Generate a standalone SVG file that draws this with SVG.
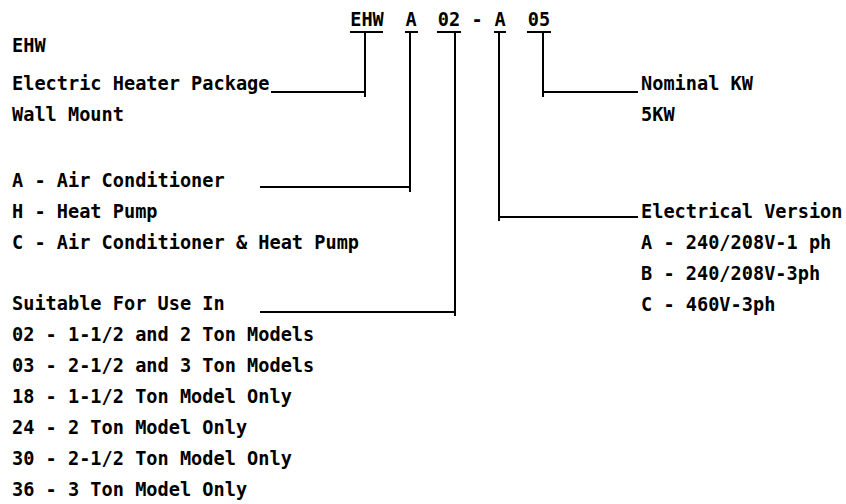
<svg xmlns="http://www.w3.org/2000/svg" width="846" height="504" viewBox="0 0 846 504">
<style>
text{font-family:"DejaVu Sans Mono","Liberation Mono",monospace;font-size:18.6px;font-weight:bold;fill:#000}
.c{text-anchor:middle}
line{stroke:#000;stroke-width:2}
</style>
<rect width="846" height="504" fill="#fff"/>
<g id="code">
<text class="c" x="367" y="26">EHW</text>
<text class="c" x="411" y="26">A</text>
<text class="c" x="449" y="26">02</text>
<text class="c" x="477" y="26">-</text>
<text class="c" x="500" y="26">A</text>
<text class="c" x="539" y="26">05</text>
<line x1="350" y1="32" x2="383" y2="32"/>
<line x1="405" y1="32" x2="418" y2="32"/>
<line x1="437" y1="32" x2="461" y2="32"/>
<line x1="494" y1="32" x2="506" y2="32"/>
<line x1="527" y1="32" x2="551" y2="32"/>
</g>
<g id="connectors">
<polyline points="365,33 365,97" fill="none" stroke="#000" stroke-width="2"/>
<line x1="271" y1="92" x2="365" y2="92"/>
<line x1="410" y1="33" x2="410" y2="192"/>
<line x1="260" y1="187" x2="410" y2="187"/>
<line x1="455" y1="33" x2="455" y2="316"/>
<line x1="260" y1="312" x2="455" y2="312"/>
<line x1="499" y1="33" x2="499" y2="221"/>
<line x1="499" y1="217" x2="638" y2="217"/>
<line x1="543" y1="33" x2="543" y2="97"/>
<line x1="543" y1="92" x2="638" y2="92"/>
</g>
<g id="package">
<text x="12" y="52">EHW</text>
<text x="12" y="90">Electric Heater Package</text>
<text x="12" y="121">Wall Mount</text>
</g>
<g id="type">
<text x="12" y="187">A - Air Conditioner</text>
<text x="12" y="218">H - Heat Pump</text>
<text x="12" y="249">C - Air Conditioner &amp; Heat Pump</text>
</g>
<g id="models">
<text x="12" y="310">Suitable For Use In</text>
<text x="12" y="341">02 - 1-1/2 and 2 Ton Models</text>
<text x="12" y="372">03 - 2-1/2 and 3 Ton Models</text>
<text x="12" y="403">18 - 1-1/2 Ton Model Only</text>
<text x="12" y="434">24 - 2 Ton Model Only</text>
<text x="12" y="465">30 - 2-1/2 Ton Model Only</text>
<text x="12" y="496">36 - 3 Ton Model Only</text>
</g>
<g id="kw">
<text x="641" y="90">Nominal KW</text>
<text x="641" y="121">5KW</text>
</g>
<g id="electrical">
<text x="641" y="218">Electrical Version</text>
<text x="641" y="249">A - 240/208V-1 ph</text>
<text x="641" y="280">B - 240/208V-3ph</text>
<text x="641" y="311">C - 460V-3ph</text>
</g>
</svg>
